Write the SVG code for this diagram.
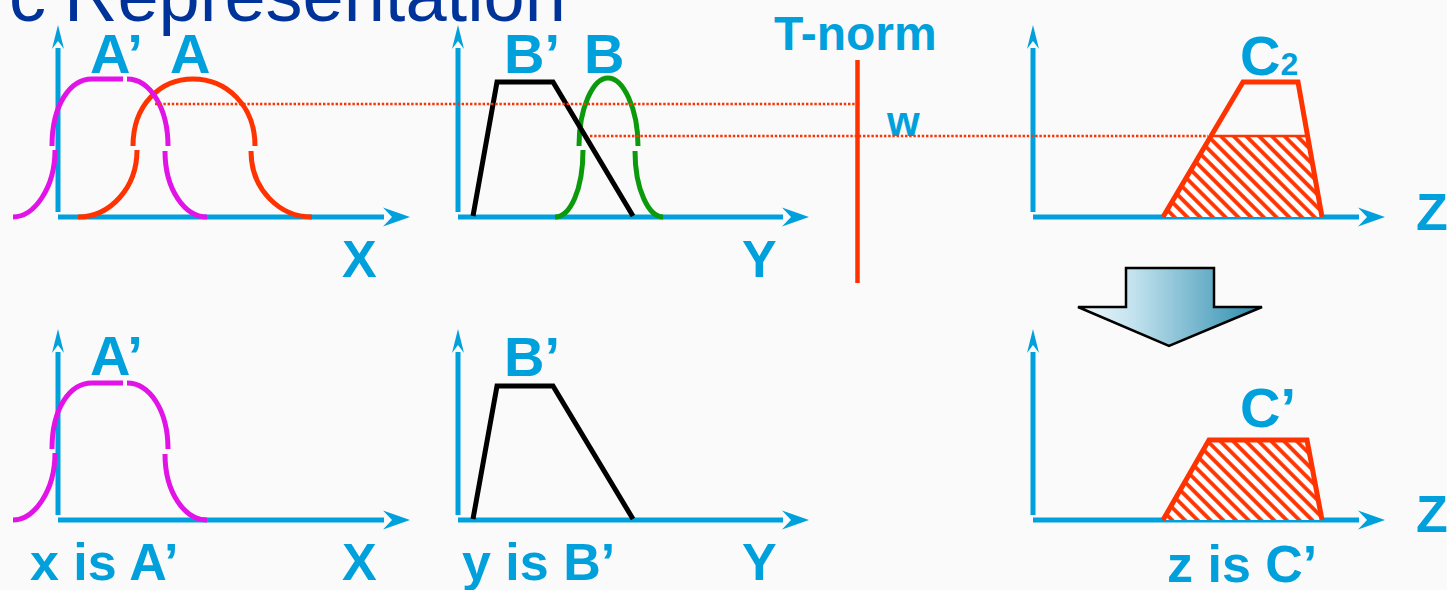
<svg xmlns="http://www.w3.org/2000/svg" width="1447" height="590" viewBox="0 0 1447 590">
<defs>
<style>
.ax{stroke:#00A0DC;stroke-width:5;fill:none}
.lb{font-family:"Liberation Sans",Arial,sans-serif;font-weight:bold;fill:#00A0DC}
.mag{stroke:#E213E6;stroke-width:5;fill:none}
.red{stroke:#FF3300;stroke-width:5;fill:none}
.grn{stroke:#0B9A0B;stroke-width:5;fill:none}
.blk{stroke:#000;stroke-width:5;fill:none;stroke-linejoin:miter}
.dot{stroke:#FF3300;stroke-width:2.6;stroke-dasharray:2.4 1.8;fill:none}
</style>
<marker id="axh" markerUnits="userSpaceOnUse" markerWidth="40" markerHeight="30" viewBox="-5 -15 40 30" refX="0" refY="0" orient="auto">
<path d="M-1,-9.5 L26,0 L-1,9.5 L8,0 Z" fill="#00A0DC"/>
</marker>
<marker id="axv" markerUnits="userSpaceOnUse" markerWidth="40" markerHeight="30" viewBox="-5 -15 40 30" refX="0" refY="0" orient="auto">
<path d="M-1,-6 L23,0 L-1,6 L7,0 Z" fill="#00A0DC"/>
</marker>
<pattern id="hatch" patternUnits="userSpaceOnUse" width="9" height="9" patternTransform="rotate(-45)">
<rect x="0" y="0" width="9" height="9" fill="#FFFFFF"/>
<line x1="2" y1="0" x2="2" y2="9" stroke="#FF3300" stroke-width="3.8"/>
</pattern>
<linearGradient id="arrowGrad" x1="0" y1="0" x2="1" y2="0">
<stop offset="0" stop-color="#F2F9FB"/>
<stop offset="0.3" stop-color="#C2E2EE"/>
<stop offset="1" stop-color="#2A8BAD"/>
</linearGradient>
</defs>
<rect x="0" y="0" width="1447" height="590" fill="#FAFAFA"/>

<g id="title">
<text font-family="'Liberation Sans',Arial,sans-serif" font-size="74" fill="#003399" y="21"><tspan x="9">c</tspan><tspan x="64">Representation</tspan></text>
</g>

<g id="panel-x-top">
<path class="ax" d="M58,212 L58,48" marker-end="url(#axv)"/>
<path class="ax" d="M58,217 L384,217" marker-end="url(#axh)"/>
<path class="red" d="M78,217 C110,217 137,188 137,150 M133,146 C133,105 160,79 193,79 C226,79 255,105 255,146 M251,151 C251,190 280,217 312,217"/>
<path class="mag" d="M13,217 C34,217 55,188 55,150 M52,146 C52,105 70,79 92,79 L123,79 M127,79 C150,79 168,108 168,146 M165,151 C165,190 185,217 207,217"/>
<text class="lb" font-size="56" y="73"><tspan x="90">A’</tspan><tspan x="170">A</tspan></text>
<text class="lb" font-size="52" x="342" y="277">X</text>
</g>

<g id="panel-y-top">
<path class="ax" d="M458,212 L458,48" marker-end="url(#axv)"/>
<path class="ax" d="M458,217 L783,217" marker-end="url(#axh)"/>
<path class="grn" d="M555,217 C570,217 583,190 583,150 M579,146 C579,108 593,78 608,78 C623,78 638,108 638,146 M635,151 C635,190 649,217 663,217"/>
<polyline class="blk" points="473,216 497,82 553,82 633,216"/>
<text class="lb" font-size="56" y="73"><tspan x="504">B’</tspan><tspan x="584">B</tspan></text>
<text class="lb" font-size="52" x="742" y="277">Y</text>
</g>

<g id="tnorm">
<line x1="857.5" y1="60" x2="857.5" y2="283" stroke="#FF3300" stroke-width="4.5"/>
<text class="lb" font-size="48" x="774" y="50">T-norm</text>
<text class="lb" font-size="42" x="887" y="136">w</text>
</g>

<g id="panel-z-top">
<path class="ax" d="M1033,212 L1033,48" marker-end="url(#axv)"/>
<path class="ax" d="M1033,217 L1359,217" marker-end="url(#axh)"/>
<polygon points="1163,217 1211,136 1308,136 1322,217" fill="url(#hatch)"/>
<line x1="1211" y1="136" x2="1308" y2="136" stroke="#FF3300" stroke-width="2.5"/>
<polyline class="red" points="1163,217 1243,82 1298,82 1322,217"/>
<text class="lb" font-size="56" x="1240" y="75">C<tspan font-size="32">2</tspan></text>
<text class="lb" font-size="52" x="1416" y="230">Z</text>
</g>

<g id="connectors">
<line class="dot" x1="155" y1="104" x2="855" y2="104"/>
<line class="dot" x1="590" y1="136" x2="1208" y2="136"/>
</g>

<g id="implication-arrow">
<path d="M1126,268 L1214,268 L1214,307 L1262,307 L1169,346 L1078,307 L1126,307 Z" fill="url(#arrowGrad)" stroke="#000" stroke-width="2.5" stroke-linejoin="miter"/>
</g>

<g id="panel-x-bottom">
<path class="ax" d="M58,515 L58,352" marker-end="url(#axv)"/>
<path class="ax" d="M58,520 L384,520" marker-end="url(#axh)"/>
<path class="mag" d="M13,520 C34,520 55,491 55,453 M52,449 C52,408 70,383 92,383 L123,383 M127,383 C150,383 168,411 168,449 M165,454 C165,493 185,520 207,520"/>
<text class="lb" font-size="56" x="90" y="375">A’</text>
<text class="lb" font-size="52" x="30" y="580">x is A’</text>
<text class="lb" font-size="52" x="342" y="580">X</text>
</g>

<g id="panel-y-bottom">
<path class="ax" d="M458,515 L458,352" marker-end="url(#axv)"/>
<path class="ax" d="M458,520 L783,520" marker-end="url(#axh)"/>
<polyline class="blk" points="473,519 497,386 553,386 633,519"/>
<text class="lb" font-size="56" x="504" y="376">B’</text>
<text class="lb" font-size="52" x="462" y="580">y is B’</text>
<text class="lb" font-size="52" x="742" y="580">Y</text>
</g>

<g id="panel-z-bottom">
<path class="ax" d="M1033,515 L1033,352" marker-end="url(#axv)"/>
<path class="ax" d="M1033,520 L1359,520" marker-end="url(#axh)"/>
<polygon points="1163,520 1209,440 1307,440 1322,520" fill="url(#hatch)"/>
<polyline class="red" points="1163,520 1209,440 1307,440 1322,520"/>
<text class="lb" font-size="56" x="1240" y="427">C’</text>
<text class="lb" font-size="52" x="1416" y="532">Z</text>
<text class="lb" font-size="52" x="1167" y="582">z is C’</text>
</g>
</svg>
